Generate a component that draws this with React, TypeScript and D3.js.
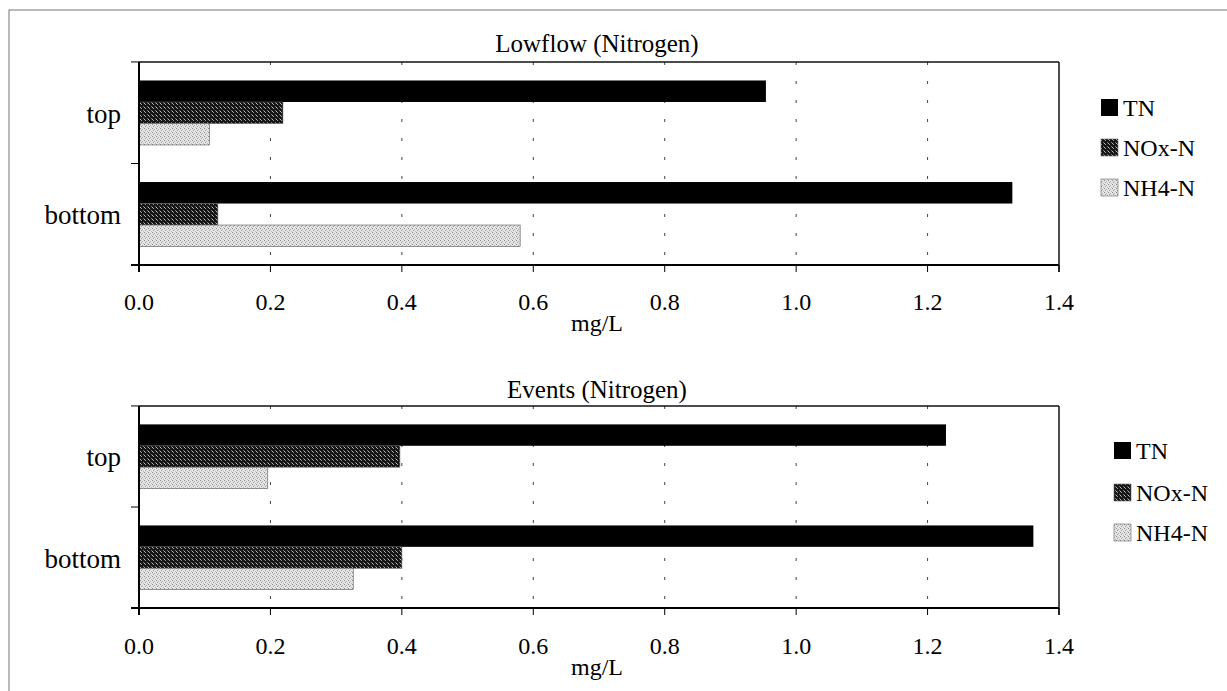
import * as d3 from 'd3';

// categories and series
const categories = ['top', 'bottom'];
const seriesNames = ['TN', 'NOx-N', 'NH4-N'];
const xTicks = [0, 0.2, 0.4, 0.6, 0.8, 1.0, 1.2, 1.4];

// Lowflow values (mg/L), per category: TN, NOx-N, NH4-N
const lowflowTop = [0.954, 0.219, 0.107];
const lowflowBottom = [1.329, 0.12, 0.58];

// Events values (mg/L)
const eventsTop = [1.228, 0.397, 0.196];
const eventsBottom = [1.361, 0.4, 0.326];

const W = 1227;
const H = 691;
const FONT = '"Liberation Serif", "Times New Roman", serif';

const fills = ['#000000', 'url(#patNox)', 'url(#patNh4)'];

interface PanelProps {
    title: string;
    values: number[][];
    top: number;
    bottom: number;
    titleY: number;
    tickLabelY: number;
    unitY: number;
    legendX: number;
    legendY: number[];
}

const Panel = ({ title, values, top, bottom, titleY, tickLabelY, unitY, legendX, legendY }: PanelProps) => {
    const left = 139;
    const right = 1059;

    const x = d3.scaleLinear().domain([0, 1.4]).range([left, right]);
    const y = d3.scaleBand<string>()
        .domain(categories)
        .range([top, bottom])
        .paddingInner(0.365)
        .paddingOuter(0.182);
    const ys = d3.scaleBand<string>()
        .domain(seriesNames)
        .range([0, y.bandwidth()]);

    // category boundaries for the y axis ticks
    const step = y.step();
    const yBounds = categories.map(c => (y(c) as number) - (step * 0.365) / 2);
    yBounds.push(bottom);

    return (
        <g>
            <text x={597} y={titleY} textAnchor="middle" fontSize={25}>{title}</text>

            {/* grid lines */}
            {xTicks.slice(1, -1).map(t => (
                <line key={'g' + t} x1={x(t)} x2={x(t)} y1={top} y2={bottom}
                    stroke="#444" strokeWidth={1} strokeDasharray="3,16" />
            ))}

            {/* bars */}
            {categories.map((c, ci) => (
                <g key={c}>
                    {seriesNames.map((s, si) => (
                        <rect key={s}
                            x={x(0)}
                            y={(y(c) as number) + (ys(s) as number)}
                            width={x(values[ci][si]) - x(0)}
                            height={ys.bandwidth()}
                            fill={fills[si]}
                            stroke={si === 0 ? 'none' : '#555'}
                            strokeWidth={0.6} />
                    ))}
                </g>
            ))}

            {/* frame */}
            <line x1={left} x2={right} y1={top} y2={top} stroke="#111" strokeWidth={1.5} />
            <line x1={right} x2={right} y1={top} y2={bottom + 7} stroke="#111" strokeWidth={1.5} />
            <line x1={left - 8} x2={right} y1={bottom} y2={bottom} stroke="#000" strokeWidth={2} />
            <line x1={left} x2={left} y1={top} y2={bottom + 7} stroke="#000" strokeWidth={2} />

            {/* y ticks */}
            {yBounds.map((b, i) => (
                <line key={'yt' + i} x1={left - 8} x2={left} y1={b} y2={b} stroke="#000" strokeWidth={1} />
            ))}
            {categories.map(c => (
                <text key={'yl' + c} x={121} y={(y(c) as number) + y.bandwidth() / 2 + 10}
                    textAnchor="end" fontSize={27}>{c}</text>
            ))}

            {/* x ticks */}
            {xTicks.map(t => (
                <g key={'xt' + t}>
                    <line x1={x(t)} x2={x(t)} y1={bottom} y2={bottom + 7} stroke="#000" strokeWidth={1} />
                    <text x={x(t)} y={tickLabelY} textAnchor="middle" fontSize={24}>{d3.format('.1f')(t)}</text>
                </g>
            ))}
            <text x={597} y={unitY} textAnchor="middle" fontSize={24}>mg/L</text>

            {/* legend */}
            {seriesNames.map((s, si) => (
                <g key={'lg' + s}>
                    <rect x={legendX} y={legendY[si] - 9} width={17} height={17} fill={fills[si]}
                        stroke={si === 0 ? 'none' : '#666'} strokeWidth={0.6} />
                    <text x={legendX + 22} y={legendY[si] + 8} fontSize={24}>{s}</text>
                </g>
            ))}
        </g>
    );
};

const App = () => {
    return (
        <svg width={W} height={H} style={{ position: 'absolute', left: 0, top: 0, background: '#fff' }}
            fontFamily={FONT}>
            <defs>
                <pattern id="patNox" width={4} height={4} patternUnits="userSpaceOnUse">
                    <rect width={4} height={4} fill="#161616" />
                    <rect x={1} y={0} width={1} height={1} fill="#9a9a9a" />
                    <rect x={3} y={2} width={1} height={1} fill="#777" />
                    <rect x={0} y={3} width={1} height={1} fill="#bbb" />
                </pattern>
                <pattern id="patNh4" width={4} height={4} patternUnits="userSpaceOnUse">
                    <rect width={4} height={4} fill="#e6e6e6" />
                    <rect x={0} y={0} width={1} height={1} fill="#888" />
                    <rect x={2} y={1} width={1} height={1} fill="#aaa" />
                    <rect x={1} y={2} width={1} height={1} fill="#999" />
                    <rect x={3} y={3} width={1} height={1} fill="#bbb" />
                </pattern>
            </defs>
            <rect x={9} y={10} width={1240} height={720} fill="#fff" stroke="#777" strokeWidth={1} />
            <Panel title="Lowflow (Nitrogen)" values={[lowflowTop, lowflowBottom]}
                top={62} bottom={265} titleY={52} tickLabelY={310} unitY={331}
                legendX={1101} legendY={[108, 148, 188]} />
            <Panel title="Events (Nitrogen)" values={[eventsTop, eventsBottom]}
                top={406} bottom={608} titleY={398} tickLabelY={654} unitY={675}
                legendX={1114} legendY={[451, 493, 533]} />
        </svg>
    );
};

export default App;
